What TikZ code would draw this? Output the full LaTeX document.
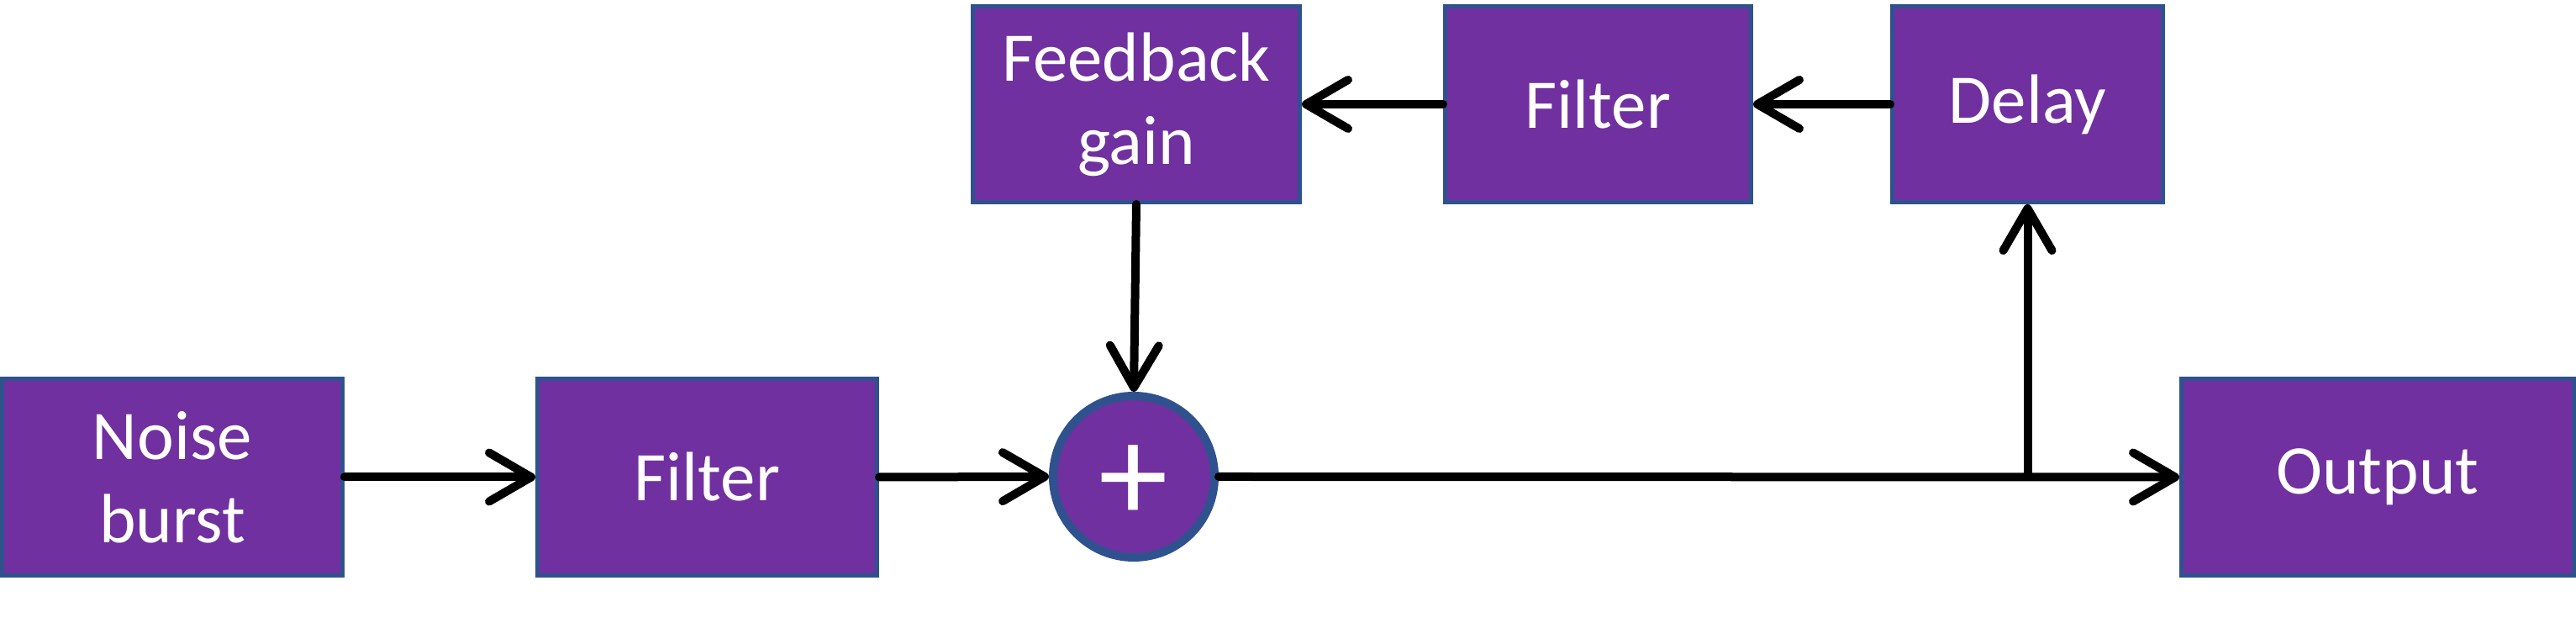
\documentclass[tikz,border=0pt]{standalone}
\usepackage{fontspec}
\setmainfont{Carlito}
\usetikzlibrary{arrows.meta}
\definecolor{boxfill}{HTML}{7030A0}
\definecolor{boxline}{HTML}{2F528F}
\tikzset{
  blockbox/.style={draw=boxline, fill=boxfill, line width=0.05cm, inner sep=0pt,
    text=white, align=center, font=\fontsize{23.6}{28.2}\selectfont},
  sumnode/.style={circle, draw=boxline, fill=boxfill, line width=0.1cm, inner sep=0pt,
    minimum size=1.92cm},
  plussign/.style={inner sep=0pt, text=white, font=\fontsize{47}{47}\selectfont},
  flow/.style={line width=0.1cm, line cap=round,
    -{Straight Barb[length=0.5cm, width=0.58cm, line cap=round, line join=round]}}
}
\begin{document}
\begin{tikzpicture}
\useasboundingbox (0,0) rectangle (30.65,7.66);
\node[blockbox, minimum width=4.05cm, minimum height=2.34cm] (noise) at (2.05,1.985) {Noise\\burst};
\node[blockbox, minimum width=4.04cm, minimum height=2.34cm] (filt1) at (8.415,1.985) {Filter};
\node[sumnode] (sum) at (13.49,1.99) {};
\node[plussign] (plus) at ([yshift=-0.08cm]sum.center) {+};
\node[blockbox, minimum width=4.67cm, minimum height=2.34cm] (out) at (28.29,1.985) {Output};
\node[blockbox, minimum width=3.89cm, minimum height=2.33cm] (gain) at (13.52,6.42) {Feedback\\gain};
\node[blockbox, minimum width=3.64cm, minimum height=2.33cm] (filt2) at (19.015,6.42) {Filter};
\node[blockbox, minimum width=3.22cm, minimum height=2.33cm] (delay) at (24.125,6.42) {Delay};
\coordinate (br) at (delay.south |- sum.east);
\draw[flow] (noise.east) -- (filt1.west);
\draw[flow] (filt1.east) -- (sum.west);
\draw[flow] (sum.east) -- (out.west);
\draw[flow] (br) -- (delay.south);
\draw[flow] (delay.west) -- (filt2.east);
\draw[flow] (filt2.west) -- (gain.east);
\draw[flow] (gain.south) -- (sum.north);
\end{tikzpicture}
\end{document}
